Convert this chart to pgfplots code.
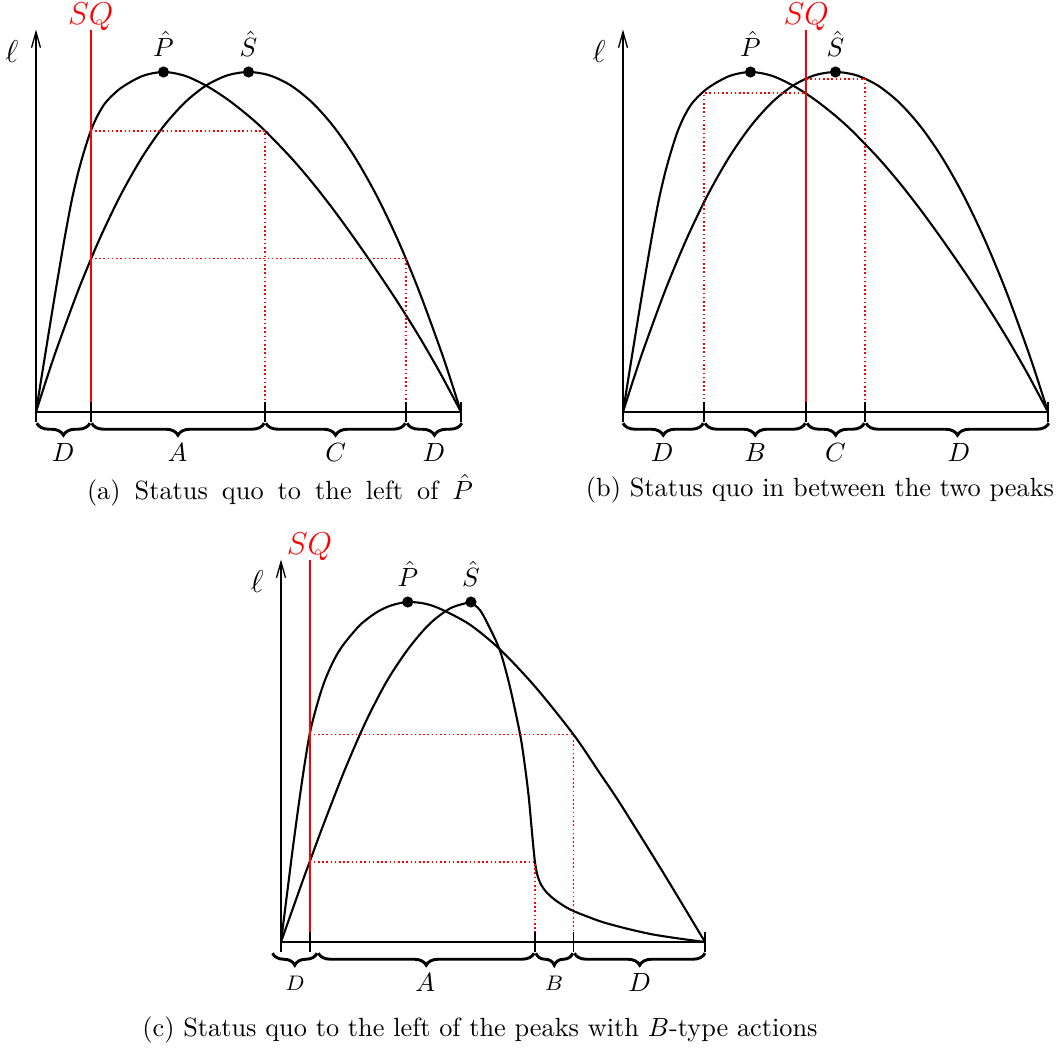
\documentclass[border=0pt]{standalone}
\usepackage{pgfplots}
\pgfplotsset{compat=1.18}
\usetikzlibrary{decorations.pathreplacing, arrows.meta}

\newlength\px
\setlength\px{0.38pt}

\tikzset{
  curve/.style={black, line width=0.8pt, smooth},
  guide/.style={red, line width=0.6pt, dash pattern=on 0.6pt off 1pt},
  sqline/.style={red, line width=0.8pt},
  brc/.style={decorate, decoration={brace, mirror, amplitude=12\px}, line width=1.1pt},
  tk/.style={black, line width=0.7pt},
  yarrow/.style={line width=0.5pt, -{Straight Barb[length=6pt, width=3.4pt]}},
  peak/.style={only marks, mark=*, mark size=5\px, black},
}
\pgfplotsset{
  panel/.style={scale only axis, width=425\px, height=340\px,
    xmin=0, xmax=1, ymin=0, ymax=1, hide axis, clip=false, anchor=south west},
}

% utility curves on [0,1], peak height 1
\def\Pcurve{(0,0) (0.012,0.094) (0.025,0.195) (0.04,0.31) (0.055,0.422) (0.07,0.53) (0.085,0.628) (0.1,0.708) (0.115,0.774) (0.129,0.827) (0.145,0.872) (0.165,0.912) (0.2,0.953) (0.25,0.988) (0.3,1) (0.35,0.989) (0.4,0.96) (0.45,0.92) (0.5,0.871) (0.539,0.827) (0.6,0.748) (0.65,0.675) (0.7,0.595) (0.75,0.509) (0.8,0.419) (0.85,0.325) (0.9,0.225) (0.95,0.117) (1,0)}
\def\Scurve{(0,0) (0.025,0.0975) (0.05,0.19) (0.1,0.36) (0.15,0.51) (0.2,0.64) (0.25,0.75) (0.3,0.84) (0.35,0.91) (0.4,0.96) (0.45,0.99) (0.5,1) (0.55,0.99) (0.6,0.96) (0.65,0.91) (0.7,0.84) (0.75,0.75) (0.8,0.64) (0.85,0.51) (0.9,0.36) (0.95,0.19) (0.975,0.0975) (1,0)}

\begin{document}
\begin{tikzpicture}
\useasboundingbox (0,0) rectangle (1060\px,1049\px);

% ---------------- (a) ----------------
\begin{axis}[panel, at={(36\px,637\px)}]
\addplot[curve] coordinates {\Pcurve};
\addplot[curve] coordinates {\Scurve};
\draw[guide] (axis cs:0.129,0.827) -- (axis cs:0.539,0.827) -- (axis cs:0.539,0);
\draw[guide] (axis cs:0.129,0.451) -- (axis cs:0.871,0.451) -- (axis cs:0.871,0);
\draw[sqline] (axis cs:0.129,0) -- (axis cs:0.129,1.125)
  node[anchor=base, yshift=5\px, inner sep=0pt] {\large$SQ$};
\draw[line width=0.5pt] (axis cs:0,0) -- (axis cs:1,0);
\draw[yarrow] (axis cs:0,0) -- (axis cs:0,1.125);
\node[anchor=east, inner sep=0pt, xshift=-17\px] at (axis cs:0,1.06) {\large$\ell$};
\draw[tk] (axis cs:0,-0.03) -- (axis cs:0,0.03);
\draw[tk] (axis cs:0.129,-0.03) -- (axis cs:0.129,0.03);
\draw[tk] (axis cs:0.539,-0.03) -- (axis cs:0.539,0.03);
\draw[tk] (axis cs:0.871,-0.03) -- (axis cs:0.871,0.03);
\draw[tk] (axis cs:1,-0.03) -- (axis cs:1,0.03);
\draw[brc] (axis cs:0.002,-0.033) -- (axis cs:0.127,-0.033);
\draw[brc] (axis cs:0.131,-0.033) -- (axis cs:0.537,-0.033);
\draw[brc] (axis cs:0.541,-0.033) -- (axis cs:0.869,-0.033);
\draw[brc] (axis cs:0.873,-0.033) -- (axis cs:1.002,-0.033);
\node at (axis cs:0.064,-0.12) {$D$};
\node at (axis cs:0.333,-0.12) {$A$};
\node at (axis cs:0.705,-0.12) {$C$};
\node at (axis cs:0.936,-0.12) {$D$};
\addplot[peak] coordinates {(0.3,1) (0.5,1)};
\node[anchor=base, inner sep=0pt, yshift=16\px] at (axis cs:0.3,1) {$\hat{P}$};
\node[anchor=base, inner sep=0pt, yshift=16\px] at (axis cs:0.5,1) {$\hat{S}$};
\end{axis}
\node at (280\px,559\px) {\makebox[386\px][s]{(a) Status quo to the left of $\hat{P}$}};

% ---------------- (b) ----------------
\begin{axis}[panel, at={(623\px,637\px)}]
\addplot[curve] coordinates {\Pcurve};
\addplot[curve] coordinates {\Scurve};
\draw[guide] (axis cs:0.191,0) -- (axis cs:0.191,0.938) -- (axis cs:0.431,0.938);
\draw[guide] (axis cs:0.431,0.98) -- (axis cs:0.570,0.98) -- (axis cs:0.570,0);
\draw[sqline] (axis cs:0.431,0) -- (axis cs:0.431,1.125)
  node[anchor=base, yshift=5\px, inner sep=0pt] {\large$SQ$};
\draw[line width=0.5pt] (axis cs:0,0) -- (axis cs:1,0);
\draw[yarrow] (axis cs:0,0) -- (axis cs:0,1.125);
\node[anchor=east, inner sep=0pt, xshift=-17\px] at (axis cs:0,1.06) {\large$\ell$};
\draw[tk] (axis cs:0,-0.03) -- (axis cs:0,0.03);
\draw[tk] (axis cs:0.191,-0.03) -- (axis cs:0.191,0.03);
\draw[tk] (axis cs:0.431,-0.03) -- (axis cs:0.431,0.03);
\draw[tk] (axis cs:0.570,-0.03) -- (axis cs:0.570,0.03);
\draw[tk] (axis cs:1,-0.03) -- (axis cs:1,0.03);
\draw[brc] (axis cs:0.0,-0.033) -- (axis cs:0.189,-0.033);
\draw[brc] (axis cs:0.193,-0.033) -- (axis cs:0.429,-0.033);
\draw[brc] (axis cs:0.433,-0.033) -- (axis cs:0.568,-0.033);
\draw[brc] (axis cs:0.572,-0.033) -- (axis cs:1.002,-0.033);
\node at (axis cs:0.092,-0.12) {$D$};
\node at (axis cs:0.311,-0.12) {$B$};
\node at (axis cs:0.500,-0.12) {$C$};
\node at (axis cs:0.790,-0.12) {$D$};
\addplot[peak] coordinates {(0.3,1) (0.5,1)};
\node[anchor=base, inner sep=0pt, yshift=16\px] at (axis cs:0.3,1) {$\hat{P}$};
\node[anchor=base, inner sep=0pt, yshift=16\px] at (axis cs:0.5,1) {$\hat{S}$};
\end{axis}
\node at (820\px,559\px) {(b) Status quo in between the two peaks};

% ---------------- (c) ----------------
\begin{axis}[panel, at={(281\px,107\px)}, width=424\px]
\addplot[curve] coordinates {(0,0) (0.015,0.149) (0.03,0.296) (0.05,0.476) (0.0674,0.61) (0.086,0.702) (0.104,0.771) (0.126,0.832) (0.148,0.876) (0.187,0.933) (0.226,0.97) (0.26,0.99) (0.299,1) (0.34,0.995) (0.379,0.978) (0.446,0.933) (0.517,0.86) (0.6,0.75) (0.69,0.61) (0.75,0.5) (0.8,0.407) (0.9,0.207) (1,0)};
% S rises to its peak, then falls sharply once B-type actions set in
\addplot[curve] coordinates {(0,0) (0.05,0.176) (0.0674,0.235) (0.1,0.345) (0.15,0.505) (0.2,0.648) (0.25,0.768) (0.3,0.862) (0.35,0.935) (0.4,0.982) (0.448,1)};
\addplot[curve] coordinates {(0.448,1) (0.47,0.975) (0.493,0.922) (0.517,0.855) (0.54,0.75) (0.564,0.61) (0.575,0.52) (0.584,0.43) (0.59,0.35) (0.595,0.282) (0.599,0.235) (0.604,0.2) (0.612,0.172) (0.625,0.148) (0.645,0.125) (0.67,0.104) (0.69,0.091) (0.72,0.076) (0.76,0.058) (0.82,0.038) (0.878,0.022) (0.94,0.01) (1,0)};
\draw[guide] (axis cs:0.0674,0.61) -- (axis cs:0.690,0.61) -- (axis cs:0.690,0);
\draw[guide] (axis cs:0.0674,0.235) -- (axis cs:0.599,0.235) -- (axis cs:0.599,0);
\draw[sqline] (axis cs:0.0674,0) -- (axis cs:0.0674,1.125)
  node[anchor=base, yshift=5\px, inner sep=0pt] {\large$SQ$};
\draw[line width=0.5pt] (axis cs:0,0) -- (axis cs:1,0);
\draw[yarrow] (axis cs:0,0) -- (axis cs:0,1.125);
\node[anchor=east, inner sep=0pt, xshift=-17\px] at (axis cs:0,1.06) {\large$\ell$};
\draw[tk] (axis cs:0,-0.03) -- (axis cs:0,0.03);
\draw[tk] (axis cs:0.0674,-0.03) -- (axis cs:0.0674,0.03);
\draw[tk] (axis cs:0.599,-0.03) -- (axis cs:0.599,0.03);
\draw[tk] (axis cs:0.690,-0.03) -- (axis cs:0.690,0.03);
\draw[tk] (axis cs:1,-0.03) -- (axis cs:1,0.03);
\draw[brc] (axis cs:-0.02,-0.033) -- (axis cs:0.085,-0.033);
\draw[brc] (axis cs:0.088,-0.033) -- (axis cs:0.597,-0.033);
\draw[brc] (axis cs:0.601,-0.033) -- (axis cs:0.688,-0.033);
\draw[brc] (axis cs:0.692,-0.033) -- (axis cs:1.0,-0.033);
\node at (axis cs:0.033,-0.12) {\footnotesize$D$};
\node at (axis cs:0.340,-0.12) {$A$};
\node at (axis cs:0.644,-0.12) {\footnotesize$B$};
\node at (axis cs:0.846,-0.12) {$D$};
\addplot[peak] coordinates {(0.299,1) (0.448,1)};
\node[anchor=base, inner sep=0pt, yshift=16\px] at (axis cs:0.299,1) {$\hat{P}$};
\node[anchor=base, inner sep=0pt, yshift=16\px] at (axis cs:0.448,1) {$\hat{S}$};
\end{axis}
\node at (480\px,19\px) {(c) Status quo to the left of the peaks with $B$-type actions};
\end{tikzpicture}
\end{document}
